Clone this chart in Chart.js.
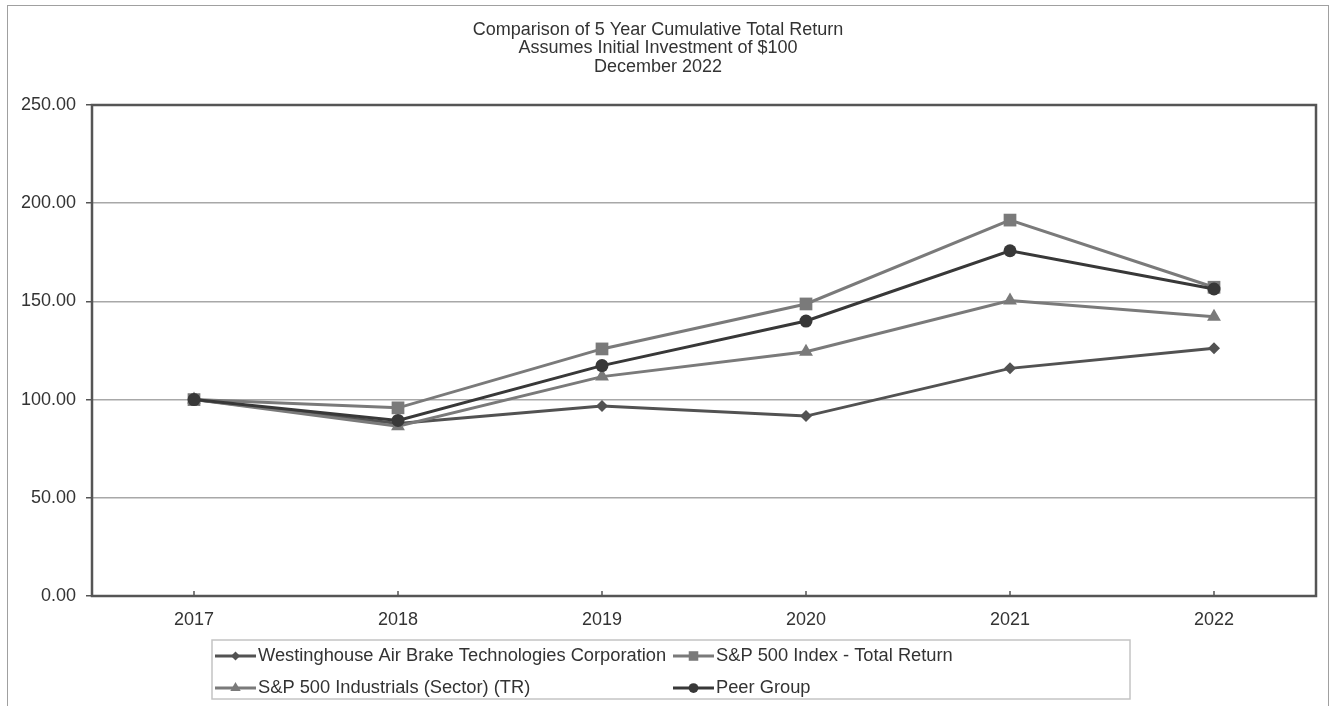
<!DOCTYPE html>
<html>
<head>
<meta charset="utf-8">
<script src="https://cdn.jsdelivr.net/npm/chart.js@4/dist/chart.umd.min.js"></script>
<style>
  html, body { margin: 0; padding: 0; background: #fff; }
  #wrap { width: 1336px; height: 706px; position: relative; }
</style>
</head>
<body>
<div id="wrap"><canvas id="chart"></canvas></div>
<script>
const years = ["2017", "2018", "2019", "2020", "2021", "2022"];
const wabtec = [100, 87.8, 96.7, 91.6, 115.9, 126.1];
const sp500 = [100, 95.8, 125.8, 148.7, 191.4, 157.2];
const industrials = [100, 86.4, 111.7, 124.4, 150.4, 142.2];
const peerGroup = [100, 89.4, 117.3, 140.0, 175.8, 156.3];
const titleLines = [
  "Comparison of 5 Year Cumulative Total Return",
  "Assumes Initial Investment of $100",
  "December 2022"
];

const FONT = "'Liberation Sans', Arial, Helvetica, sans-serif";

// draws title, outer frame, plot box, inner x ticks and the boxed legend
const decor = {
  id: "decor",
  beforeDatasetsDraw(chart) {
    const { ctx, chartArea: a, scales } = chart;
    ctx.save();
    // inward x ticks
    ctx.strokeStyle = "#555";
    ctx.lineWidth = 1.5;
    years.forEach((y, i) => {
      const x = scales.x.getPixelForValue(i);
      ctx.beginPath();
      ctx.moveTo(x, a.bottom);
      ctx.lineTo(x, a.bottom - 5);
      ctx.stroke();
    });
    // plot box
    ctx.strokeStyle = "#555";
    ctx.lineWidth = 2.5;
    ctx.strokeRect(a.left, a.top, a.right - a.left, a.bottom - a.top);
    ctx.restore();
  },
  afterDraw(chart) {
    const { ctx } = chart;
    ctx.save();
    // outer frame
    ctx.strokeStyle = "#a0a0a0";
    ctx.lineWidth = 1;
    ctx.strokeRect(7.5, 5.5, 1321, 710);
    // title
    ctx.fillStyle = "#333";
    ctx.font = "18px " + FONT;
    ctx.textAlign = "center";
    ctx.textBaseline = "middle";
    titleLines.forEach((t, i) => ctx.fillText(t, 658, 30 + i * 18.5));
    // legend
    ctx.strokeStyle = "#c4c4c4";
    ctx.lineWidth = 1.5;
    ctx.strokeRect(212, 640, 918, 59);
    const slots = [[215, 656], [673, 656], [215, 688], [673, 688]];
    chart.data.datasets.forEach((ds, i) => {
      const [x, y] = slots[i];
      ctx.strokeStyle = ds.borderColor;
      ctx.lineWidth = 3;
      ctx.beginPath();
      ctx.moveTo(x, y);
      ctx.lineTo(x + 41, y);
      ctx.stroke();
      ctx.fillStyle = ds.pointBackgroundColor;
      Chart.helpers.drawPoint(ctx, {
        pointStyle: ds.pointStyle,
        radius: ds.pointRadius * 0.75,
        rotation: 0,
        borderWidth: 0
      }, x + 20.5, y);
      ctx.fillStyle = "#333";
      ctx.font = "18.3px " + FONT;
      ctx.textAlign = "left";
      ctx.textBaseline = "middle";
      ctx.fillText(ds.label, x + 43, y);
    });
    ctx.restore();
  }
};

function series(label, data, color, style, radius, order) {
  return {
    label, data, order,
    borderColor: color,
    backgroundColor: color,
    pointBackgroundColor: color,
    pointBorderColor: color,
    pointBorderWidth: 0,
    pointStyle: style,
    pointRadius: radius,
    borderWidth: 3,
    tension: 0
  };
}

new Chart(document.getElementById("chart"), {
  type: "line",
  data: {
    labels: years,
    datasets: [
      series("Westinghouse Air Brake Technologies Corporation", wabtec, "#525252", "rectRot", 6, 3),
      series("S&P 500 Index - Total Return", sp500, "#7a7a7a", "rect", 9, 2),
      series("S&P 500 Industrials (Sector) (TR)", industrials, "#7a7a7a", "triangle", 8, 1),
      series("Peer Group", peerGroup, "#383838", "circle", 6.5, 0)
    ]
  },
  options: {
    responsive: true,
    maintainAspectRatio: false,
    animation: false,
    layout: { padding: { left: 0, right: 20, top: 105, bottom: 70 } },
    plugins: {
      legend: { display: false },
      title: { display: false },
      tooltip: { enabled: false }
    },
    scales: {
      x: {
        offset: true,
        grid: { display: false, drawTicks: false },
        border: { display: false },
        ticks: { color: "#333", padding: 13, font: { family: FONT, size: 18 } },
        afterFit(s) { s.height = 40; }
      },
      y: {
        min: 0,
        max: 250,
        grid: { color: "#a8a8a8", lineWidth: 1.5, tickLength: 6, tickColor: "#555" },
        border: { display: false },
        ticks: {
          stepSize: 50,
          color: "#333",
          padding: 10,
          font: { family: FONT, size: 18 },
          callback: (v) => v.toFixed(2)
        },
        afterFit(s) { s.width = 92; }
      }
    }
  },
  plugins: [decor]
});
</script>
</body>
</html>
